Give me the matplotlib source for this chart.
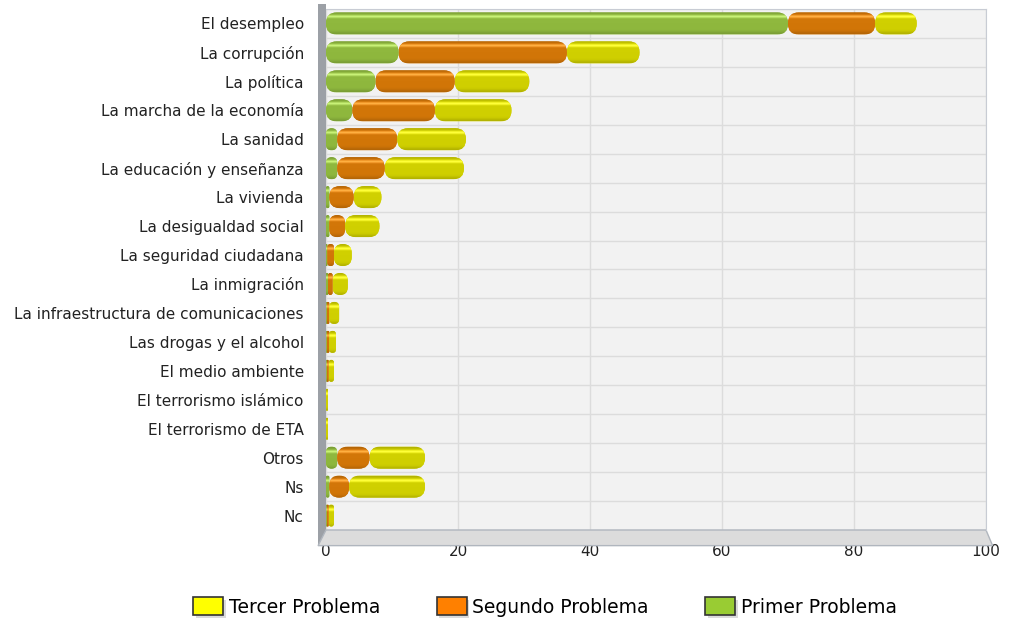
import matplotlib.pyplot as plt
from matplotlib.patches import FancyBboxPatch, Rectangle, Polygon
from matplotlib.colors import to_rgb
import matplotlib.patheffects as pe
import numpy as np

categories = [
    "El desempleo", "La corrupción", "La política", "La marcha de la economía",
    "La sanidad", "La educación y enseñanza", "La vivienda", "La desigualdad social",
    "La seguridad ciudadana", "La inmigración", "La infraestructura de comunicaciones",
    "Las drogas y el alcohol", "El medio ambiente", "El terrorismo islámico",
    "El terrorismo de ETA", "Otros", "Ns", "Nc",
]
primer = [70.0, 11.0, 7.5, 4.0, 1.7, 1.7, 0.5, 0.5, 0.2, 0.3, 0.1, 0.1, 0.1, 0.0, 0.0, 1.7, 0.5, 0.1]
segundo = [13.2, 25.5, 12.0, 12.5, 9.1, 7.2, 3.7, 2.4, 1.0, 0.7, 0.4, 0.4, 0.3, 0.0, 0.0, 4.9, 3.0, 0.3]
tercer = [6.3, 11.0, 11.3, 11.6, 10.4, 12.0, 4.2, 5.2, 2.7, 2.3, 1.5, 1.0, 0.8, 0.3, 0.3, 8.4, 11.5, 0.8]

series = [
    ("Primer Problema", primer, "#8fb83e", "#99cc33"),
    ("Segundo Problema", segundo, "#d27608", "#ff8000"),
    ("Tercer Problema", tercer, "#d0d000", "#ffff00"),
]


def cylinder_gradient(color, steps=64):
    # vertical shading: darker rims, thin light band near the top
    base = np.array(to_rgb(color))
    t = np.linspace(0, 1, steps)
    shade = 1.0 - 0.15 * np.exp(-(t / 0.08) ** 2) - 0.14 * np.exp(-((1 - t) / 0.12) ** 2)
    light = np.exp(-((t - 0.2) / 0.06) ** 2) * 0.25
    rgb = np.clip(base[None, :] * shade[:, None] + light[:, None], 0, 1)
    return rgb[:, None, :]


fig = plt.figure(figsize=(10.11, 6.24), dpi=100)
ax = fig.add_axes([326 / 1011, 1 - 530 / 624, (986 - 326) / 1011, (530 - 9) / 624])
ax.set_facecolor("#f2f2f2")

n = len(categories)
y = np.arange(n)
bar_h = 0.76
aspect = 0.23

left = np.zeros(n)
for name, vals, col, _ in series:
    grad = cylinder_gradient(col)
    for i, v in enumerate(vals):
        if v <= 0:
            continue
        r = min(1.6, v / 2)
        p = FancyBboxPatch((left[i], y[i] - bar_h / 2), v, bar_h,
                           boxstyle=f"round,pad=0,rounding_size={r}",
                           mutation_aspect=aspect, fc=col, ec="none", zorder=3)
        ax.add_patch(p)
        im = ax.imshow(grad, extent=(left[i], left[i] + v, y[i] + bar_h / 2, y[i] - bar_h / 2),
                       aspect="auto", interpolation="bilinear", zorder=4)
        im.set_clip_path(p)
    left += np.array(vals)

ax.set_xlim(0, 100)
ax.set_ylim(n - 0.5, -0.5)
ax.set_yticks(y)
ax.set_yticklabels(categories, fontsize=11, color="#222222")
ax.set_xticks([0, 20, 40, 60, 80, 100])
ax.tick_params(axis="x", labelsize=11, length=0, pad=10, colors="#222222")
ax.tick_params(axis="y", length=0, pad=16)

for yy in np.arange(n + 1) - 0.5:
    ax.axhline(yy, color="#dcdcdc", lw=1, zorder=1)
ax.grid(axis="x", color="#dcdcdc", lw=1, zorder=1)
ax.set_axisbelow(True)
for s in ["top", "right"]:
    ax.spines[s].set_color("#c8ccd4")
ax.spines["bottom"].set_visible(False)
ax.spines["left"].set_visible(False)

# 3D-like left wall and floor
ax.add_patch(Rectangle((-0.012, -0.03), 0.012, 1.04, transform=ax.transAxes,
                       fc="#9ca0a6", ec="none", clip_on=False, zorder=2))
ax.add_patch(Polygon([(-0.012, -0.03), (0.0, 0.0), (1.0, 0.0), (1.01, -0.03)],
                     closed=True, transform=ax.transAxes, fc="#dcdcdc", ec="#b0b6be",
                     clip_on=False, zorder=2))

handles = [Rectangle((0, 0), 1, 1, fc=lc, ec="#333333", lw=1.2,
                     path_effects=[pe.SimplePatchShadow(offset=(2, -2), shadow_rgbFace="#888888"), pe.Normal()])
           for _, _, _, lc in series][::-1]
labels = [nm for nm, _, _, _ in series][::-1]
fig.legend(handles, labels, loc="center", bbox_to_anchor=(545 / 1011, 1 - 607 / 624), ncol=3,
           frameon=False, fontsize=13.5, handlelength=1.6, handleheight=1.1, columnspacing=3.0,
           handletextpad=0.3)

fig.savefig("out.png", dpi=100)
